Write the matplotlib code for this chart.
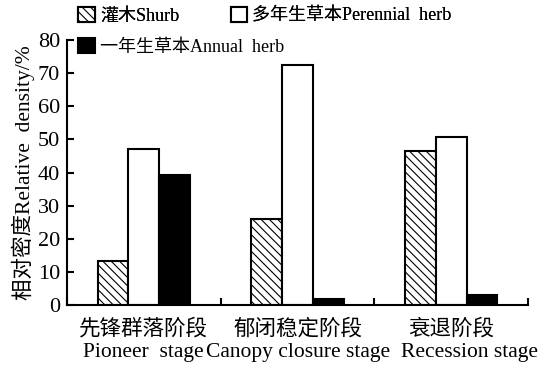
import numpy as np
import matplotlib.pyplot as plt
from matplotlib.transforms import blended_transform_factory

plt.rcParams['font.family'] = ['Liberation Serif', 'Noto Sans CJK SC']
plt.rcParams['hatch.linewidth'] = 0.8

stages_cn = ['先锋群落阶段', '郁闭稳定阶段', '衰退阶段']
stages_en = ['Pioneer  stage', 'Canopy closure stage', 'Recession stage']
shrub = [13.2, 26.0, 46.5]
perennial = [47.0, 72.3, 50.7]
annual = [39.3, 2.0, 3.0]

x = np.arange(len(stages_cn))
w = 0.2

fig = plt.figure(figsize=(5.44, 3.69), dpi=100)
ax = fig.add_axes([0.123, 0.173, 0.848, 0.719])

b1 = ax.bar(x - w, shrub, w, color='white', edgecolor='black', hatch='\\\\\\\\', linewidth=1.5,
            label='灌木Shurb')
b2 = ax.bar(x, perennial, w, color='white', edgecolor='black', linewidth=1.5,
            label='多年生草本Perennial  herb')
b3 = ax.bar(x + w, annual, w, color='black', edgecolor='black', linewidth=1.5,
            label='一年生草本Annual  herb')

ax.set_xlim(-0.5, 2.5)
ax.set_ylim(0, 80)
ax.set_yticks(range(0, 81, 10))
ax.set_xticks(x)
ax.set_xticklabels(stages_cn, fontsize=15.5)
ax.set_xticks([-0.5, 0.5, 1.5, 2.5], minor=True)
ax.tick_params(axis='x', which='major', length=0, pad=10)
ax.tick_params(axis='x', which='minor', direction='in', length=5, width=1.5)
ax.tick_params(axis='y', direction='in', length=5, width=1.5, labelsize=16, pad=5)
ax.set_ylabel('相对密度Relative  density/%', fontsize=15.5, labelpad=2)

# English line of the category labels (last one sits a bit to the right, as in the original)
trans = blended_transform_factory(ax.transData, ax.transAxes)
en_shift = [0.0, 0.0, 0.12]
for xi, lab, dx in zip(x, stages_en, en_shift):
    ax.text(xi + dx, -0.178, lab, transform=trans, ha='center', va='center', fontsize=15.5)

for s in ['top', 'right']:
    ax.spines[s].set_visible(False)
for s in ['left', 'bottom']:
    ax.spines[s].set_linewidth(1.5)

leg1 = fig.legend(handles=[b1, b2], ncol=2, loc='upper left', bbox_to_anchor=(0.114, 1.025),
                  frameon=False, fontsize=13, handlelength=0.9, handleheight=0.9,
                  handletextpad=0.3, columnspacing=2.85)
leg2 = fig.legend(handles=[b3], loc='upper left', bbox_to_anchor=(0.114, 0.94),
                  frameon=False, fontsize=13, handlelength=0.9, handleheight=0.9,
                  handletextpad=0.3)
fig.add_artist(leg1)

fig.savefig('out.png', dpi=100)
